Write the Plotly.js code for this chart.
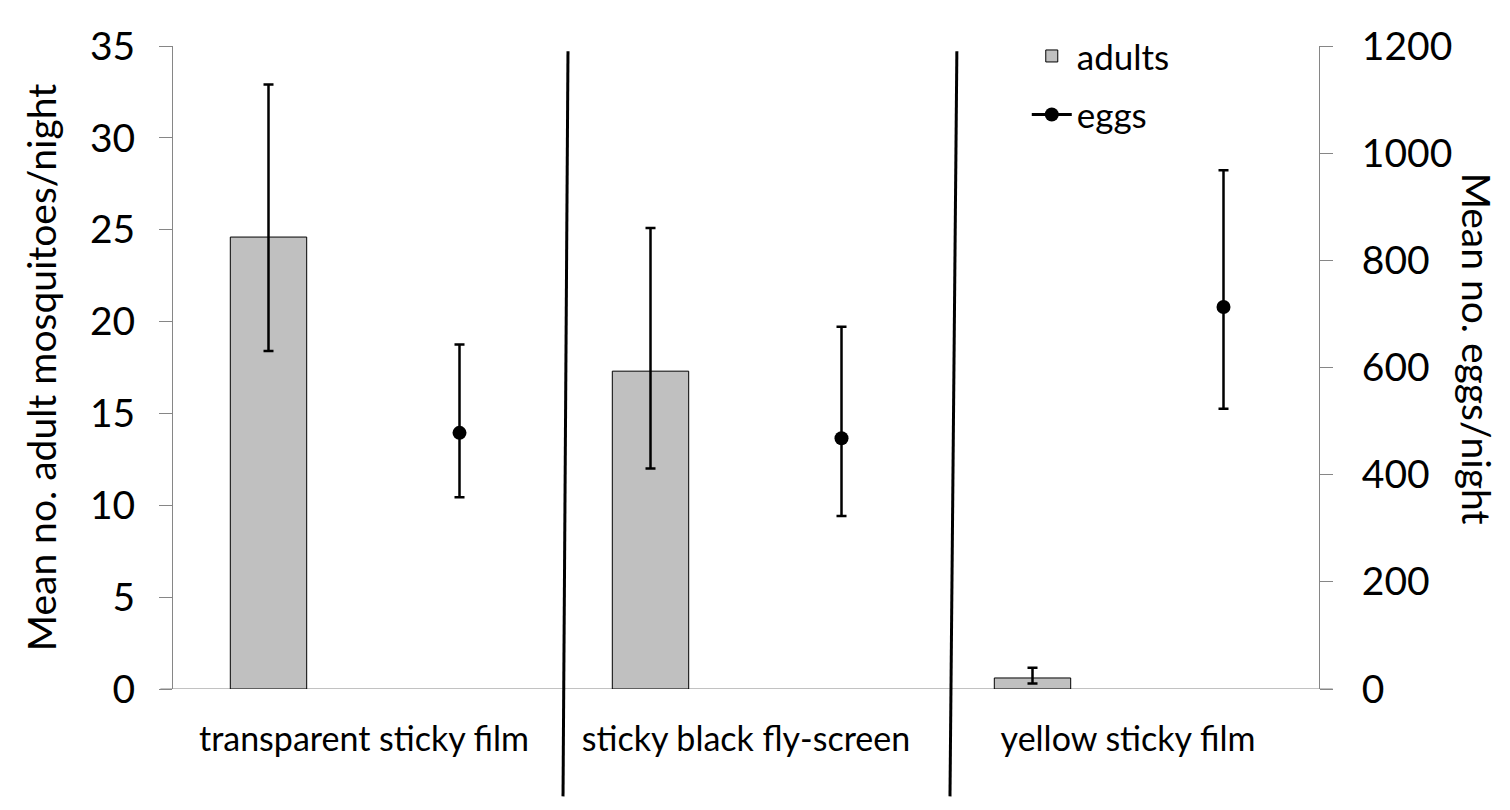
<!DOCTYPE html>
<html>
<head>
<meta charset="utf-8">
<script src="https://cdn.plot.ly/plotly-3.0.1.min.js"></script>
<style>
html,body{margin:0;padding:0;background:#fff;}
#chart{width:1510px;height:810px;}
</style>
</head>
<body>
<div id="chart"></div>
<script>
// ---- data ----
const categories = ["transparent sticky film", "sticky black fly-screen", "yellow sticky film"];
const adultsMean = [24.6, 17.3, 0.6];
const adultsErrPlus = [8.3, 7.8, 0.55];
const adultsErrMinus = [6.2, 5.3, 0.3];
const eggsMean = [478, 468, 713];
const eggsErrPlus = [165, 208, 255];
const eggsErrMinus = [120, 145, 190];
const leftTicks = [0, 5, 10, 15, 20, 25, 30, 35];
const rightTicks = [0, 200, 400, 600, 800, 1000, 1200];

// ---- positions derived from category index ----
const barX = categories.map((c, i) => i + 0.25);
const dotX = categories.map((c, i) => i + 0.75);
const labelX = categories.map((c, i) => i + 0.5);

const FONT = "Lato, 'Open Sans', sans-serif";

const traces = [
  {
    type: "bar", name: "adults", x: barX, y: adultsMean, width: 0.2,
    marker: {color: "#C0C0C0", line: {color: "#000", width: 1}},
    error_y: {type: "data", symmetric: false, array: adultsErrPlus, arrayminus: adultsErrMinus,
              color: "#000", thickness: 2.5, width: 5},
    legendgroup: "a", hoverinfo: "y"
  },
  {
    type: "scatter", mode: "markers", name: "eggs", x: dotX, y: eggsMean, yaxis: "y2",
    marker: {color: "#000", size: 14},
    error_y: {type: "data", symmetric: false, array: eggsErrPlus, arrayminus: eggsErrMinus,
              color: "#000", thickness: 2.5, width: 5},
    showlegend: false, legendgroup: "e"
  },
  {
    type: "scatter", mode: "lines+markers", name: "eggs", x: [null], y: [null], yaxis: "y2",
    marker: {color: "#000", size: 14}, line: {color: "#000", width: 3},
    legendgroup: "e", hoverinfo: "skip"
  }
];

const layout = {
  width: 1510, height: 810,
  margin: {l: 173, r: 191, t: 46, b: 121},
  paper_bgcolor: "#fff", plot_bgcolor: "#fff",
  font: {family: FONT, color: "#000"},
  showlegend: true,
  legend: {x: 0.745, y: 1.03, xanchor: "left", yanchor: "top", font: {size: 35, family: FONT},
           traceorder: "grouped", tracegroupgap: 10, bgcolor: "rgba(0,0,0,0)",
           itemwidth: 40},
  xaxis: {
    range: [0, 3], tickmode: "array", tickvals: labelX, ticktext: categories,
    tickfont: {size: 34, family: FONT}, ticks: "", showgrid: false, zeroline: false,
    showline: false, ticklabelstandoff: 27, fixedrange: true
  },
  yaxis: {
    range: [0, 35], tickmode: "array", tickvals: leftTicks,
    tickfont: {size: 39, family: FONT}, ticks: "outside", ticklen: 13, tickcolor: "#868686",
    showline: true, linecolor: "#868686", linewidth: 1, showgrid: false, zeroline: false,
    ticklabelstandoff: 16,
    title: {text: "Mean no. adult mosquitoes/night", font: {size: 39, family: FONT}, standoff: 21}
  },
  yaxis2: {
    range: [0, 1200], overlaying: "y", side: "right", tickmode: "array", tickvals: rightTicks,
    tickfont: {size: 39, family: FONT}, ticks: "outside", ticklen: 13, tickcolor: "#868686",
    showline: true, linecolor: "#868686", linewidth: 1, showgrid: false, zeroline: false,
    ticklabelstandoff: 21
  },
  shapes: [
    // x axis line extending slightly beyond both y axes
    {type: "line", xref: "paper", yref: "y", x0: -0.011, x1: 1.012, y0: 0, y1: 0,
     line: {color: "#868686", width: 1.2}, layer: "below"},
    // group separators
    {type: "line", xref: "x", yref: "paper", x0: 1.021, y0: -0.167, x1: 1.034, y1: 0.992,
     line: {color: "#000", width: 3}},
    {type: "line", xref: "x", yref: "paper", x0: 2.034, y0: -0.167, x1: 2.052, y1: 0.992,
     line: {color: "#000", width: 3}}
  ],
  annotations: [
    {text: "Mean no. eggs/night", xref: "paper", yref: "paper", x: 1.1375, y: 0.53,
     xanchor: "center", yanchor: "middle", textangle: 90, showarrow: false,
     font: {size: 39, family: FONT}}
  ]
};

Plotly.newPlot("chart", traces, layout, {displayModeBar: false, staticPlot: true});
</script>
</body>
</html>
